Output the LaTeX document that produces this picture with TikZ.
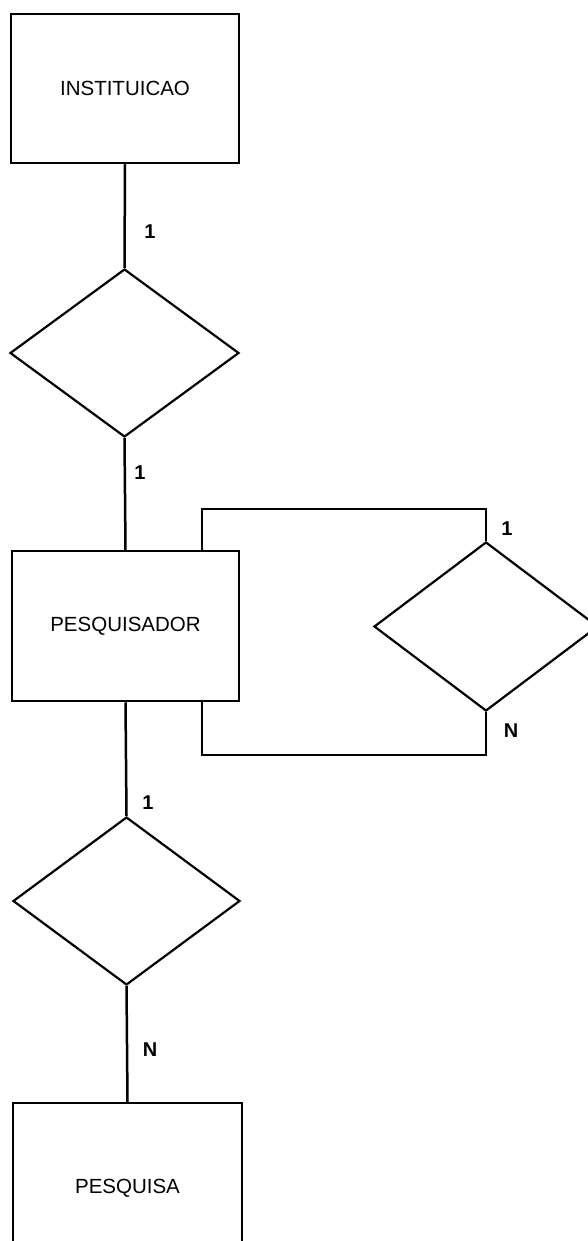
\documentclass[tikz,border=0pt]{standalone}
\usepackage{fontspec}
\setmainfont{Liberation Sans}
\usetikzlibrary{shapes.geometric}
\begin{document}
\begin{tikzpicture}[x=1pt,y=-1pt,
  every path/.style={line width=2.5pt},
  entity/.style={draw, rectangle, inner sep=0pt, font=\fontsize{20.5}{24}\selectfont},
  relation/.style={draw, diamond, inner sep=0pt, line width=2.2pt},
  card/.style={font=\bfseries\fontsize{20}{22}\selectfont, inner sep=0pt}]
\useasboundingbox (0,0) rectangle (588,1241);
\node[entity, minimum width=228pt, minimum height=149pt] (inst) at (125,88.5) {INSTITUICAO};
\node[relation, minimum width=229pt, minimum height=168pt] (r1) at (124.5,353) {};
\node[entity, minimum width=227pt, minimum height=150pt] (psq) at (125.5,626) {PESQUISADOR};
\node[relation, minimum width=224pt, minimum height=169pt] (r2) at (486,626.5) {};
\node[relation, minimum width=227pt, minimum height=168pt] (r3) at (126.5,901) {};
\node[entity, minimum width=229pt, minimum height=170pt] (pqa) at (127.5,1188) {PESQUISA};
\coordinate (lt) at (202,509);
\coordinate (lb) at (202,755);
\draw (inst.south) -- (r1.north);
\draw (r1.south) -- (psq.north);
\draw (psq.south) -- (r3.north);
\draw (r3.south) -- (pqa.north);
\draw (psq.north -| lt) -- (lt) -| (r2.north);
\draw (psq.south -| lb) -- (lb) -| (r2.south);
\node[card] (c1) at (150,232) {1};
\node[card] (c2) at (140,473) {1};
\node[card] (c3) at (148,803) {1};
\node[card] (c4) at (150,1050) {N};
\node[card] (c5) at (507,529) {1};
\node[card] (c6) at (511,731) {N};
\end{tikzpicture}
\end{document}
